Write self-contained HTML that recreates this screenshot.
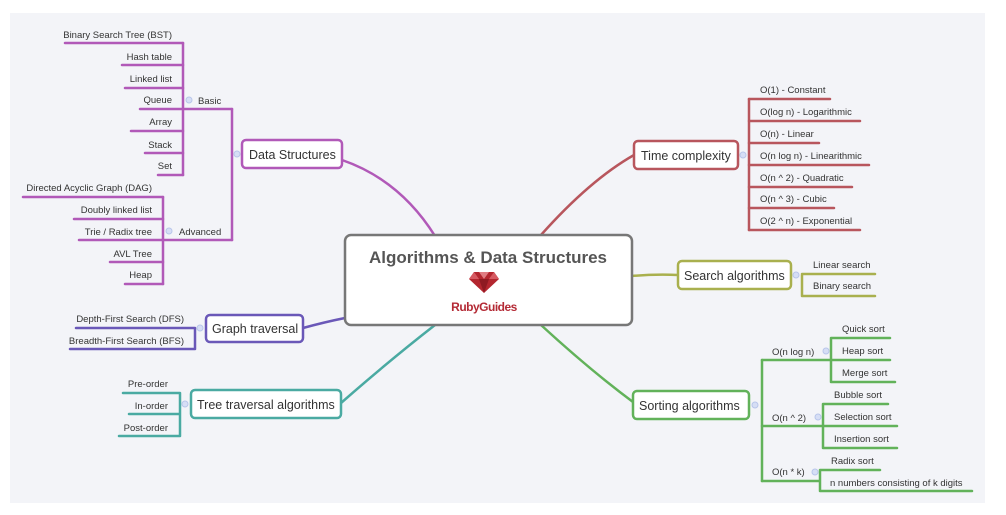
<!DOCTYPE html>
<html><head><meta charset="utf-8"><style>
html,body{margin:0;padding:0;background:#fff;}
svg{display:block;}
text{font-family:"Liberation Sans",sans-serif;fill:#333;}
</style></head><body>
<svg width="1006" height="515" viewBox="0 0 1006 515" xmlns="http://www.w3.org/2000/svg">
<rect x="10" y="13" width="975" height="490" fill="#f3f4f8"/>
<g fill="none" stroke-width="2.5" stroke-linecap="round">
<g stroke="#b159b8">
<path d="M342,160 Q400,180 435,236"/>
<path d="M232,109 V240"/>
<path d="M183,109 H232 M163,240 H232"/>
<path d="M183,43 V175"/>
<path d="M65,43 H183 M122,65 H183 M125,88 H183 M140,109 H183 M131,131 H183 M145,153 H183 M158,175 H183"/>
<path d="M163,197 V284"/>
<path d="M23,197 H163 M74,219 H163 M79,240 H163 M110,262 H163 M125,284 H163"/>
</g>
<g stroke="#b8565d">
<path d="M541,235 Q590,180 634,155"/>
<path d="M749,99 V230"/>
<path d="M749,99 H830 M749,121 H860 M749,143 H819 M749,165 H869 M749,187 H852 M749,208 H834 M749,230 H860"/>
</g>
<g stroke="#a9b04e">
<path d="M632,276 Q655,274 678,275"/>
<path d="M802,275 V296 M802,274 H875 M802,296 H875"/>
</g>
<g stroke="#62b25a">
<path d="M541,325 Q590,370 633,402"/>
<path d="M762,360 V481"/>
<path d="M762,360 H831 M831,338 V382 M831,338 H890 M831,360 H890 M831,382 H895"/>
<path d="M762,426 H823 M823,404 V448 M823,404 H888 M823,426 H897 M823,448 H897"/>
<path d="M762,481 H820 M820,470 V491 M820,470 H880 M820,491 H972"/>
</g>
<g stroke="#6a58b8">
<path d="M303,328 Q325,322 345,318"/>
<path d="M195,328 V349 M76,328 H195 M70,349 H195"/>
</g>
<g stroke="#4aaaa2">
<path d="M341,403 Q390,360 435,325"/>
<path d="M180,393 V436 M123,393 H180 M129,414 H180 M119,436 H180"/>
</g>
</g>
<g fill="#d6def5" stroke="#b8c6ea" stroke-width="1">
<circle cx="237" cy="154" r="3"/><circle cx="189" cy="100" r="3"/><circle cx="169" cy="231" r="3"/>
<circle cx="743" cy="155" r="3"/><circle cx="796" cy="275" r="3"/><circle cx="755" cy="405" r="3"/>
<circle cx="826" cy="351" r="3"/><circle cx="818" cy="417" r="3"/><circle cx="815" cy="472" r="3"/>
<circle cx="200" cy="328" r="3"/><circle cx="185" cy="404" r="3"/>
</g>
<g fill="#fff" stroke-width="2.5">
<rect x="345" y="235" width="287" height="90" rx="6" stroke="#777"/>
<rect x="242" y="140" width="100" height="28" rx="4" stroke="#b159b8"/>
<rect x="634" y="141" width="104" height="28" rx="4" stroke="#b8565d"/>
<rect x="678" y="261" width="113" height="28" rx="4" stroke="#a9b04e"/>
<rect x="633" y="391" width="116" height="28" rx="4" stroke="#62b25a"/>
<rect x="206" y="315" width="97" height="27" rx="4" stroke="#6a58b8"/>
<rect x="191" y="390" width="150" height="28" rx="4" stroke="#4aaaa2"/>
</g>
<text x="488" y="263" text-anchor="middle" font-size="17" font-weight="bold" style="fill:#555">Algorithms &amp; Data Structures</text>
<g>
<polygon points="474,272 494,272 499,279 484,293 469,279" fill="#b3262f"/>
<polygon points="474,272 479,279 469,279" fill="#d65a62"/>
<polygon points="494,272 499,279 489,279" fill="#d65a62"/>
<polygon points="479,279 489,279 484,293" fill="#8e1a22"/>
<polygon points="479,272 489,272 484,279" fill="#e07c82"/>
</g>
<text x="484" y="311" text-anchor="middle" font-size="12" font-weight="bold" style="fill:#b42a35;letter-spacing:-0.5px">RubyGuides</text>
<g font-size="12.5">
<text x="249" y="159">Data Structures</text>
<text x="641" y="160">Time complexity</text>
<text x="684" y="280">Search algorithms</text>
<text x="639" y="410">Sorting algorithms</text>
<text x="212" y="333">Graph traversal</text>
<text x="197" y="409">Tree traversal algorithms</text>
</g>
<g font-size="9.5" text-anchor="end">
<text x="172" y="38">Binary Search Tree (BST)</text>
<text x="172" y="60">Hash table</text>
<text x="172" y="82">Linked list</text>
<text x="172" y="103">Queue</text>
<text x="172" y="125">Array</text>
<text x="172" y="148">Stack</text>
<text x="172" y="169">Set</text>
<text x="152" y="191">Directed Acyclic Graph (DAG)</text>
<text x="152" y="213">Doubly linked list</text>
<text x="152" y="235">Trie / Radix tree</text>
<text x="152" y="257">AVL Tree</text>
<text x="152" y="278">Heap</text>
<text x="184" y="322">Depth-First Search (DFS)</text>
<text x="184" y="344">Breadth-First Search (BFS)</text>
<text x="168" y="387">Pre-order</text>
<text x="168" y="409">In-order</text>
<text x="168" y="431">Post-order</text>
</g>
<g font-size="9.5">
<text x="198" y="104">Basic</text>
<text x="179" y="235">Advanced</text>
<text x="760" y="93">O(1) - Constant</text>
<text x="760" y="115">O(log n) - Logarithmic</text>
<text x="760" y="137">O(n) - Linear</text>
<text x="760" y="159">O(n log n) - Linearithmic</text>
<text x="760" y="181">O(n ^ 2) - Quadratic</text>
<text x="760" y="202">O(n ^ 3) - Cubic</text>
<text x="760" y="224">O(2 ^ n) - Exponential</text>
<text x="813" y="268">Linear search</text>
<text x="813" y="289">Binary search</text>
<text x="772" y="355">O(n log n)</text>
<text x="842" y="332">Quick sort</text>
<text x="842" y="354">Heap sort</text>
<text x="842" y="376">Merge sort</text>
<text x="772" y="421">O(n ^ 2)</text>
<text x="834" y="398">Bubble sort</text>
<text x="834" y="420">Selection sort</text>
<text x="834" y="442">Insertion sort</text>
<text x="772" y="475">O(n * k)</text>
<text x="831" y="464">Radix sort</text>
<text x="830" y="486">n numbers consisting of k digits</text>
</g>
</svg>
</body></html>
